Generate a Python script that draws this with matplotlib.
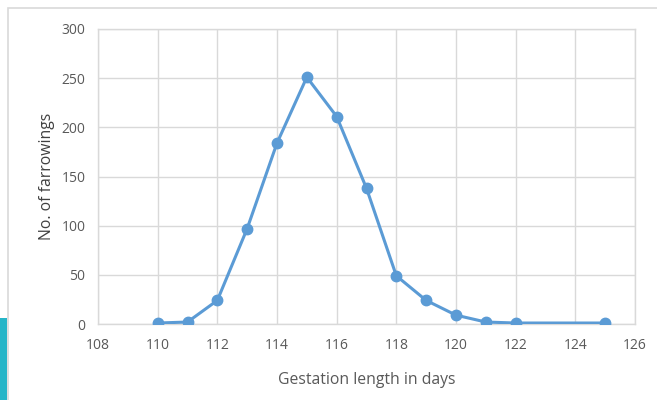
import matplotlib.pyplot as plt
from matplotlib.patches import Rectangle

# gestation data
days = [110, 111, 112, 113, 114, 115, 116, 117, 118, 119, 120, 121, 122, 125]
farrowings = [1, 2, 24, 97, 184, 251, 211, 138, 49, 24, 9, 2, 1, 1]
x_ticks = [108, 110, 112, 114, 116, 118, 120, 122, 124, 126]
y_ticks = [0, 50, 100, 150, 200, 250, 300]

grid_col = '#d9d9d9'
text_col = '#595959'
line_col = '#5b9bd5'

plt.rcParams['font.family'] = ['Open Sans', 'DejaVu Sans']

fig = plt.figure(figsize=(6.57, 4.0), dpi=100)
ax = fig.add_axes([98/657, 1-324/400, (635-98)/657, (324-29)/400])

# slide decorations: chart frame and teal bar
fig.patches.append(Rectangle((8/657, -0.1), 1.2, 1-8/400+0.1, transform=fig.transFigure,
                             fill=False, edgecolor='#d9d9d9', linewidth=1.2, zorder=0))
fig.patches.append(Rectangle((0, 0), 7/657, 82/400, transform=fig.transFigure,
                             facecolor='#26b5c8', edgecolor='none', zorder=1))

ax.plot(days, farrowings, color=line_col, linewidth=2.2, marker='o',
        markersize=7.5, zorder=3)

ax.set_xlim(108, 126)
ax.set_ylim(0, 300)
ax.set_xticks(x_ticks)
ax.set_yticks(y_ticks)
ax.grid(True, color=grid_col, linewidth=1)
ax.set_axisbelow(True)
for side in ax.spines:
    ax.spines[side].set_color(grid_col)
    ax.spines[side].set_linewidth(1)
ax.tick_params(length=0, labelsize=10, colors=text_col)
ax.tick_params(axis='x', pad=10)
ax.tick_params(axis='y', pad=9)

ax.set_xlabel('Gestation length in days', fontsize=11.3, color=text_col, labelpad=14)
ax.set_ylabel('No. of farrowings', fontsize=11.3, color='#404040', labelpad=5)

fig.savefig('out.png', dpi=100)
